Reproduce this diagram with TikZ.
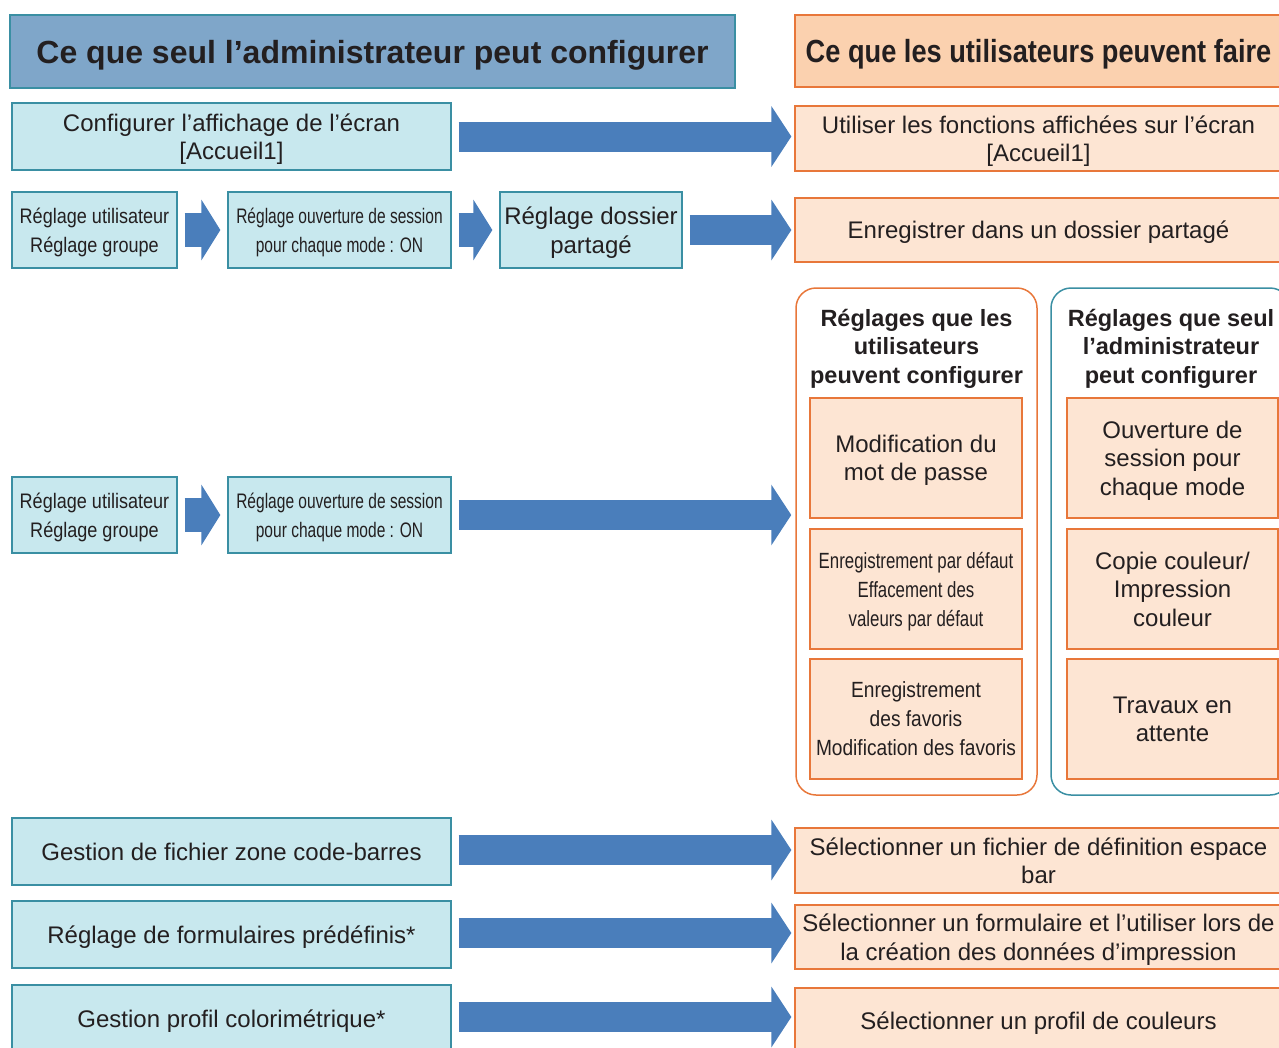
\documentclass[tikz,border=0pt]{standalone}
\usepackage{fontspec}
\setmainfont{Liberation Sans}
\newfontfamily\condsf[FakeStretch=0.85]{Liberation Sans}
\newfontfamily\slimgrp[FakeStretch=0.86]{Liberation Sans}
\newfontfamily\slimsess[FakeStretch=0.74]{Liberation Sans}
\newfontfamily\slimdef[FakeStretch=0.765]{Liberation Sans}
\newfontfamily\slimfav[FakeStretch=0.87]{Liberation Sans}
\usetikzlibrary{arrows.meta}
\definecolor{AdmHead}{HTML}{7FA6C9}
\definecolor{AdmLine}{HTML}{3A8FA3}
\definecolor{AdmFill}{HTML}{C8E8EE}
\definecolor{UsrHead}{HTML}{FBD1AF}
\definecolor{UsrLine}{HTML}{E8773A}
\definecolor{UsrFill}{HTML}{FDE5D3}
\definecolor{FlowBlue}{HTML}{4A7EBB}
\definecolor{InkGray}{HTML}{231F20}
\tikzset{
  box/.style={draw,line width=1.3pt,align=center,inner sep=0pt,text=InkGray,
    text depth=0pt,font=\fontsize{24}{28.5}\selectfont},
  admbox/.style={box,fill=AdmFill,draw=AdmLine},
  usrbox/.style={box,fill=UsrFill,draw=UsrLine},
  narrow/.style={font=#1\fontsize{21}{29}\selectfont},
  narrowin/.style={font=#1\fontsize{22}{29}\selectfont},
  headbox/.style={box,line width=1.6pt,font=\bfseries\fontsize{32}{36}\selectfont},
  groupframe/.style={draw,line width=1.5pt,rounded corners=20pt,inner sep=0pt},
  grouptitle/.style={align=center,text=InkGray,text depth=0pt,
    font=\bfseries\fontsize{23.5}{28.5}\selectfont},
  bigarrow/.style={FlowBlue,line width=30pt,-{Triangle[length=20pt,width=60pt]},
    shorten <=7pt,shorten >=3pt},
  smallarrow/.style={FlowBlue,line width=34pt,-{Triangle[length=19pt,width=60pt]},
    shorten <=7pt,shorten >=7pt},
}
\begin{document}
\begin{tikzpicture}[x=1pt,y=-1pt]
\useasboundingbox (0,0) rectangle (1279,1047);
\clip (0,0) rectangle (1279,1047);

% column headers
\node[headbox,fill=AdmHead,draw=AdmLine,minimum width=725pt,minimum height=73pt]
  (hdradm) at (372.5,51.5) {Ce que seul l’administrateur peut configurer};
\node[headbox,fill=UsrHead,draw=UsrLine,minimum width=487pt,minimum height=72pt,
  font=\condsf\bfseries\fontsize{32}{36}\selectfont]
  (hdrusr) at (1038.5,51) {Ce que les utilisateurs peuvent faire};

% home screen
\node[admbox,minimum width=439pt,minimum height=67pt] (conf) at (231.5,136.5)
  {Configurer l’affichage de l’écran\\{}[Accueil1]};
\node[usrbox,minimum width=487pt,minimum height=65pt] (usehome) at (1038.5,138.5)
  {Utiliser les fonctions affichées sur l’écran\\{}[Accueil1]};

% shared folder
\node[admbox,narrow=\slimgrp,minimum width=165pt,minimum height=76pt] (usrgrpA) at (94.5,230)
  {Réglage utilisateur\\Réglage groupe};
\node[admbox,narrow=\slimsess,minimum width=223pt,minimum height=76pt] (sessA) at (339.5,230)
  {Réglage ouverture de session\\pour chaque mode : ON};
\node[admbox,minimum width=182pt,minimum height=76pt] (folder) at (591,230)
  {Réglage dossier\\partagé};
\node[usrbox,minimum width=487pt,minimum height=64pt] (usefolder) at (1038.5,230)
  {Enregistrer dans un dossier partagé};

% per-mode login
\node[admbox,narrow=\slimgrp,minimum width=165pt,minimum height=76pt] (usrgrpB) at (94.5,515)
  {Réglage utilisateur\\Réglage groupe};
\node[admbox,narrow=\slimsess,minimum width=223pt,minimum height=76pt] (sessB) at (339.5,515)
  {Réglage ouverture de session\\pour chaque mode : ON};

\node[groupframe,draw=UsrLine,minimum width=241pt,minimum height=507pt] (grpusr) at (916.5,541.5) {};
\node[groupframe,draw=AdmLine,minimum width=239pt,minimum height=507pt] (grpadm) at (1170.5,541.5) {};
\node[grouptitle] (ttlusr) at (916.5,346) {Réglages que les\\utilisateurs\\peuvent configurer};
\node[grouptitle] (ttladm) at (1171,346) {Réglages que seul\\l’administrateur\\peut configurer};

\node[usrbox,minimum width=212pt,minimum height=120pt] (passwd) at (916,458)
  {Modification du\\mot de passe};
\node[usrbox,narrowin=\slimdef,minimum width=212pt,minimum height=120pt] (defaults) at (916,589)
  {Enregistrement par défaut\\Effacement des\\valeurs par défaut};
\node[usrbox,narrowin=\slimfav,minimum width=212pt,minimum height=120pt] (favs) at (916,719)
  {Enregistrement\\des favoris\\Modification des favoris};
\node[usrbox,minimum width=211pt,minimum height=120pt] (modelogin) at (1172.5,458)
  {Ouverture de\\session pour\\chaque mode};
\node[usrbox,minimum width=211pt,minimum height=120pt] (colour) at (1172.5,589)
  {Copie couleur/\\Impression\\couleur};
\node[usrbox,minimum width=211pt,minimum height=120pt] (jobs) at (1172.5,719)
  {Travaux en\\attente};

% bottom rows
\node[admbox,minimum width=439pt,minimum height=67pt] (barcode) at (231.5,851.5)
  {Gestion de fichier zone code-barres};
\node[admbox,minimum width=439pt,minimum height=67pt] (forms) at (231.5,934.5)
  {Réglage de formulaires prédéfinis*};
\node[admbox,minimum width=439pt,minimum height=67pt] (profile) at (231.5,1018.5)
  {Gestion profil colorimétrique*};
\node[usrbox,minimum width=487pt,minimum height=65pt] (usebarcode) at (1038.5,860.5)
  {Sélectionner un fichier de définition espace\\bar};
\node[usrbox,minimum width=487pt,minimum height=64pt] (useforms) at (1038.5,937)
  {Sélectionner un formulaire et l’utiliser lors de\\la création des données d’impression};
\node[usrbox,minimum width=487pt,minimum height=65pt] (useprofile) at (1038.5,1020.5)
  {Sélectionner un profil de couleurs};

% arrows
\draw[bigarrow] (conf.east) -- (conf.east -| usehome.west);
\draw[smallarrow] (usrgrpA) -- (sessA);
\draw[smallarrow] (sessA) -- (folder);
\draw[bigarrow] (folder.east) -- (folder.east -| usefolder.west);
\draw[smallarrow] (usrgrpB) -- (sessB);
\draw[bigarrow,shorten >=4pt] (sessB.east) -- (sessB.east -| grpusr.west);
\draw[bigarrow] ([yshift=1.5pt]barcode.east) -- ([yshift=1.5pt]barcode.east -| usebarcode.west);
\draw[bigarrow] ([yshift=1.5pt]forms.east) -- ([yshift=1.5pt]forms.east -| useforms.west);
\draw[bigarrow] ([yshift=1.5pt]profile.east) -- ([yshift=1.5pt]profile.east -| useprofile.west);
\end{tikzpicture}
\end{document}
